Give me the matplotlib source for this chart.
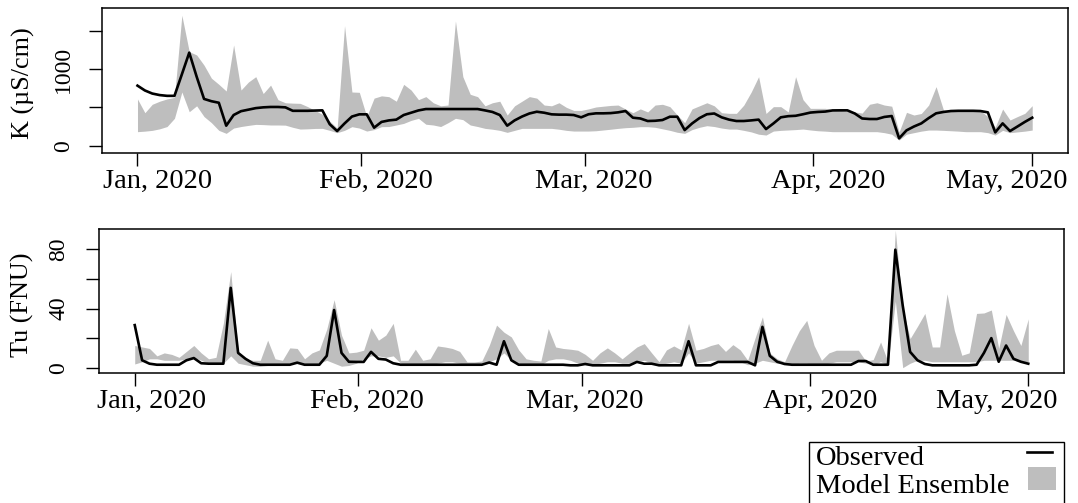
import numpy as np
import matplotlib
matplotlib.use("Agg")
import matplotlib.pyplot as plt
from matplotlib.patches import Rectangle
from matplotlib.lines import Line2D

# Daily series, 1 Jan 2020 (day 0) to 1 May 2020 (day 121)
days = np.arange(122)

# Electrical conductivity K (uS/cm)
k_observed = [
    783, 720, 680, 660, 650, 650, 930, 1213, 900, 610,
    580, 560, 261, 400, 450, 470, 490, 500, 505, 505,
    500, 455, 455, 455, 458, 461, 280, 191, 290, 380,
    409, 409, 235, 310, 330, 340, 400, 430, 460, 478,
    478, 478, 478, 478, 478, 478, 478, 460, 440, 400,
    261, 330, 380, 420, 443, 430, 409, 405, 405, 400,
    370, 410, 422, 422, 425, 435, 452, 365, 355, 322,
    325, 335, 378, 378, 204, 290, 360, 410, 420, 370,
    340, 322, 322, 330, 340, 217, 290, 370, 385, 390,
    410, 432, 440, 445, 460, 461, 461, 420, 355, 348,
    348, 375, 387, 96, 200, 250, 291, 360, 422, 440,
    452, 455, 455, 455, 452, 435, 174, 291, 191, 250,
    310, 365,
]
k_upper = [
    609, 430, 540, 580, 610, 630, 1700, 1226, 1183, 1050,
    880, 800, 713, 1313, 726, 830, 900, 680, 790, 600,
    560, 555, 552, 510, 460, 410, 320, 230, 1565, 700,
    696, 380, 620, 650, 639, 580, 800, 726, 600, 640,
    560, 520, 530, 1626, 900, 670, 639, 520, 560, 580,
    400, 520, 580, 640, 620, 530, 520, 560, 500, 460,
    460, 480, 505, 515, 525, 530, 478, 430, 480, 440,
    530, 540, 509, 400, 300, 480, 520, 560, 520, 430,
    422, 422, 530, 700, 900, 420, 509, 509, 440, 900,
    600, 487, 487, 487, 470, 460, 452, 440, 425, 540,
    560, 530, 515, 180, 435, 400, 420, 530, 770, 465,
    455, 455, 455, 455, 455, 380, 240, 478, 335, 380,
    422, 522,
]
k_lower = [
    183, 190, 200, 220, 250, 357, 700, 443, 520, 380,
    300, 200, 161, 230, 250, 265, 278, 275, 270, 270,
    268, 240, 217, 220, 225, 226, 200, 170, 200, 248,
    230, 191, 210, 248, 250, 270, 291, 330, 357, 280,
    270, 250, 300, 357, 340, 270, 250, 226, 215, 200,
    174, 200, 226, 226, 226, 226, 226, 215, 200, 191,
    191, 191, 195, 205, 215, 226, 235, 240, 248, 248,
    240, 220, 200, 175, 161, 210, 240, 261, 250, 230,
    217, 217, 200, 180, 150, 139, 191, 200, 205, 210,
    217, 205, 195, 190, 183, 183, 183, 183, 183, 183,
    183, 170, 150, 74, 150, 170, 190, 204, 204, 200,
    195, 190, 183, 183, 183, 170, 139, 200, 170, 180,
    190, 204,
]

# Turbidity Tu (FNU)
tu_observed = [
    28.8, 5, 2.7, 2, 2, 2, 2, 5, 6.5, 3,
    2.7, 2.7, 2.7, 54, 10, 6, 3, 2, 2, 2,
    2, 2, 3.4, 2, 2, 2, 8, 39, 10, 4,
    3.9, 3.9, 10.7, 6, 5.5, 3, 2, 2, 2, 2,
    2, 2, 2, 2, 2, 2, 2, 2, 3.5, 2,
    17.9, 5, 2, 2, 2, 2, 2, 2, 2, 1.6,
    1.6, 2.5, 1.6, 1.6, 1.6, 1.6, 1.6, 1.6, 3.9, 2.7,
    2.7, 1.6, 1.6, 1.6, 1.6, 17.9, 1.6, 1.6, 1.6, 3.9,
    3.9, 3.9, 3.9, 3.9, 1.6, 27.6, 8, 4, 2.5, 2,
    2, 2, 2, 2, 2, 2, 2, 2, 4.5, 4.5,
    2, 2, 2, 79.8, 42, 10.7, 5, 2.5, 1.6, 1.6,
    1.6, 1.6, 1.6, 1.6, 2, 10, 20, 4, 15, 6,
    4, 2.7,
]
tu_upper = [
    15, 14, 13, 8, 10, 9, 7, 11, 15, 10,
    6, 7, 30, 65, 11, 6, 5, 5, 18.6, 6,
    5, 13.4, 13, 6, 10, 12, 26, 46, 22, 10,
    10.5, 11.8, 27, 18.6, 22, 30, 5, 5, 12.5, 5,
    6, 14.7, 14, 13, 11, 3.9, 3.9, 4.5, 15, 28.8,
    24, 20.8, 12, 6, 5, 4.5, 26.5, 14, 13, 12.5,
    11.8, 9, 5, 10, 13.4, 10, 6, 10, 14, 16.3,
    10, 4, 12, 14.7, 12, 30, 11.8, 13, 15, 16.3,
    11, 15.6, 12, 5, 20, 34.4, 10, 6, 4, 15,
    25, 32, 15, 5, 10, 11.8, 11.8, 11.8, 11.8, 4.5,
    5.5, 17.4, 4, 93, 40, 19.7, 28, 36.7, 14, 14,
    50, 25, 8.4, 10, 36.7, 37, 39, 13, 36, 25,
    15, 33,
]
tu_lower = [
    2.5, 4, 6, 6, 5, 5, 5, 6, 7, 5,
    3, 3, 3, 8, 3, 2, 1, 1, 1.5, 2,
    2, 3, 4, 2, 2, 3, 5, 3, 1, 1.5,
    3, 6, 8, 8, 7, 8, 3, 2, 2, 2,
    2, 3, 4, 4, 3, 2, 2, 3, 4, 6,
    10, 5, 3, 2, 2, 2, 5, 6, 6, 5,
    3, 2, 2, 3, 4, 4, 3, 3, 4, 5,
    3, 2, 3, 4, 3, 10, 3, 4, 5, 5,
    5, 5, 4, 2, 3, 5, 4, 3, 3, 2,
    3, 3, 2, 2, 3, 4, 4, 4, 4, 3,
    2, 4, 2, 45, 0, 3, 5, 5, 4, 4,
    4, 4, 4, 4, 4, 5, 5, 5, 5, 5,
    4, 4,
]

# Month tick marks and where their labels sit (days since 1 Jan)
month_ticks = [0, 30.2, 60.5, 91.4, 121]
month_labels = ["Jan, 2020", "Feb, 2020", "Mar, 2020", "Apr, 2020", "May, 2020"]
label_pos_k = [2.7, 32.2, 61.7, 93.4, 117.6]
label_pos_tu = [2.3, 31.4, 61.0, 92.8, 116.8]

W, H = 1078, 503
FS = 20.5        # month labels and legend
FS_Y = 17.0      # y tick labels
FS_LAB = 18.8    # axis titles
GREY = "#BEBEBE"
TICK_LEN = 9.5

plt.rcParams["font.family"] = ["Liberation Serif", "DejaVu Serif"]
fig = plt.figure(figsize=(W / 100, H / 100), dpi=100)


def px_axes(left, top, right, bottom):
    return fig.add_axes([left / W, 1 - bottom / H, (right - left) / W, (bottom - top) / H])


def style(ax, yticks, ylabels, ylim, label_pos, ypad):
    ax.set_xlim(-4.84, 125.84)
    ax.set_ylim(*ylim)
    ax.set_xticks(month_ticks)
    ax.set_xticklabels([""] * len(month_ticks))
    ax.set_xticks(label_pos, minor=True)
    ax.set_xticklabels(month_labels, minor=True)
    ax.set_yticks(yticks)
    ax.set_yticklabels(ylabels, rotation=90, va="center")
    ax.tick_params(axis="both", which="major", direction="out", length=TICK_LEN,
                   width=1.0, colors="black")
    ax.tick_params(axis="x", which="minor", length=0, pad=TICK_LEN + 2, labelsize=FS)
    ax.tick_params(axis="y", which="major", pad=ypad, labelsize=FS_Y)
    for s in ax.spines.values():
        s.set_linewidth(1.1)


ax1 = px_axes(101.7, 8, 1068, 153)
ax1.fill_between(days, k_lower, k_upper, color=GREY, lw=0)
ax1.plot(days, k_observed, color="black", lw=1.9)
style(ax1, [0, 500, 1000, 1500], ["0", "", "1000", ""], (-95, 1795), label_pos_k, 10.5)

ax2 = px_axes(99, 229.3, 1064, 373.3)
ax2.fill_between(days, tu_lower, tu_upper, color=GREY, lw=0)
ax2.plot(days, tu_observed, color="black", lw=1.9)
style(ax2, [0, 20, 40, 60, 80], ["0", "", "40", "", "80"], (-3.8, 93.6), label_pos_tu, 12)

fig.text(23 / W, 1 - 83 / H, "K (\u00b5S/cm)", rotation=90, ha="center", va="center", fontsize=FS_LAB)
fig.text(22.5 / W, 1 - 305 / H, "Tu (FNU)", rotation=90, ha="center", va="center", fontsize=FS_LAB)

# Legend box below the panels, running off the bottom edge
fig.patches.append(Rectangle((809 / W, 1 - 515 / H), (1064 - 809) / W, (515 - 441.7) / H,
                             transform=fig.transFigure, fill=False, ec="black", lw=1.0))
fig.text(816 / W, 1 - 465 / H, "Observed", ha="left", va="baseline", fontsize=FS)
fig.text(816 / W, 1 - 493 / H, "Model Ensemble", ha="left", va="baseline", fontsize=FS)
fig.lines.append(Line2D([1027 / W, 1052 / W], [1 - 451.7 / H, 1 - 451.7 / H],
                        transform=fig.transFigure, color="black", lw=1.9))
fig.patches.append(Rectangle((1028 / W, 1 - 490 / H), 28 / W, 23.3 / H,
                             transform=fig.transFigure, color=GREY, lw=0))

fig.savefig("out.png", dpi=100)
